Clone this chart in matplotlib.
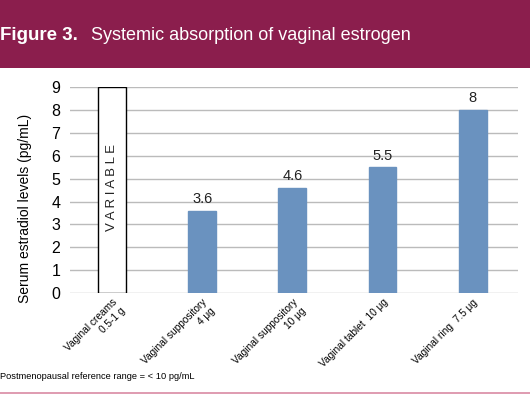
import matplotlib.pyplot as plt
from matplotlib.patches import Rectangle
from matplotlib.lines import Line2D

categories = ['Vaginal creams\n0.5-1 g', 'Vaginal suppository\n4 μg',
              'Vaginal suppository\n10 μg', 'Vaginal tablet  10 μg',
              'Vaginal ring  7.5 μg']
values = [9, 3.6, 4.6, 5.5, 8]
value_labels = ['', '3.6', '4.6', '5.5', '8']
y_ticks = list(range(0, 10))

plt.rcParams['font.family'] = ['Liberation Sans', 'DejaVu Sans']

maroon = '#8B1E4D'
blue = '#6A92BF'

fig = plt.figure(figsize=(5.3, 3.96), dpi=100)

# шапка
fig.patches.append(Rectangle((0, 0.828), 1, 0.172, transform=fig.transFigure,
                             facecolor=maroon, edgecolor='none', zorder=0))
fig.text(0.0, 0.91, 'Figure 3.', color='white', fontsize=13.5, fontweight='bold',
         va='center', ha='left')
fig.text(0.171, 0.91, 'Systemic absorption of vaginal estrogen', color='white',
         fontsize=13, va='center', ha='left')

ax = fig.add_axes([0.132, 0.260, 0.845, 0.520])
x = list(range(len(categories)))
colors = ['white'] + [blue] * (len(values) - 1)
edges = ['black'] + [blue] * (len(values) - 1)
ax.bar(x, values, width=0.31, color=colors, edgecolor=edges, linewidth=1.0, zorder=3)

for xi, v, lab in zip(x, values, value_labels):
    if lab:
        ax.text(xi, v + 0.2, lab, ha='center', va='bottom', fontsize=10.5, color='#222222')

ax.text(0, 4.6, 'V A R I A B L E', rotation=90, ha='center', va='center',
        fontsize=9.5, color='#222222')

ax.set_xlim(-0.465, 4.5)
ax.set_ylim(0, 9)
ax.set_yticks(y_ticks)
ax.tick_params(axis='y', length=0, labelsize=11.5, pad=7)
ax.tick_params(axis='x', length=0, labelsize=7.3, pad=3)
ax.grid(axis='y', color='#BBBBBB', linewidth=1.0, zorder=0)
for s in ax.spines.values():
    s.set_visible(False)
ax.set_xticks(x)
ax.set_xticklabels(categories, rotation=45, ha='right', rotation_mode='anchor',
                   multialignment='right')
ax.set_ylabel('Serum estradiol levels (pg/mL)', fontsize=10)
ax.yaxis.set_label_coords(-0.085, 0.41)

fig.text(0.0, 0.048, 'Postmenopausal reference range = < 10 pg/mL', fontsize=6.7,
         va='center', ha='left')
fig.lines.append(Line2D([0, 1], [0.008, 0.008], transform=fig.transFigure,
                        color='#D98AA3', linewidth=1.2))

fig.savefig('out.png', dpi=100)
